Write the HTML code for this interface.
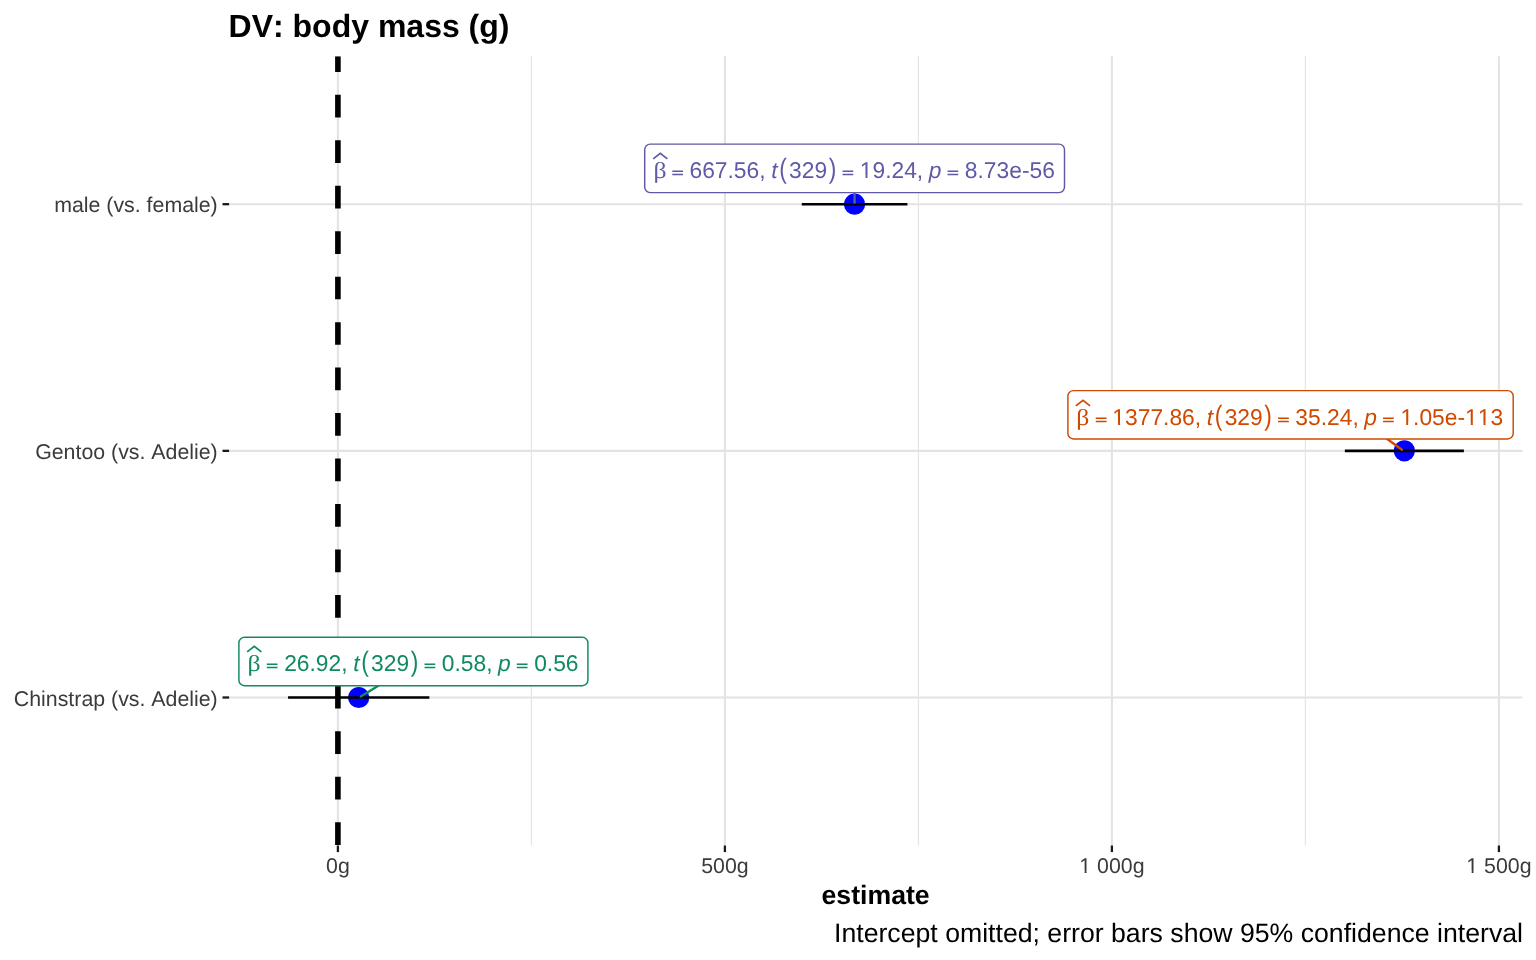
<!DOCTYPE html>
<html><head><meta charset="utf-8"><title>DV: body mass (g)</title>
<style>html,body{margin:0;padding:0;background:#fff;}svg{display:block;}</style>
</head><body>
<svg width="1536" height="960" viewBox="0 0 1536 960" text-rendering="geometricPrecision" style="will-change:transform;font-kerning:none">
<rect x="0" y="0" width="1536" height="960" fill="#ffffff"/>
<defs><clipPath id="c0"><path clip-rule="evenodd" d="M0 0H1536V960H0ZM1079.71 870.71H1084.64V874.50H1079.71ZM1086.53 870.71H1091.01V874.50H1086.53Z"/></clipPath><clipPath id="c1"><path clip-rule="evenodd" d="M0 0H1536V960H0ZM1466.71 870.71H1471.64V874.50H1466.71ZM1473.53 870.71H1478.01V874.50H1473.53Z"/></clipPath><clipPath id="c2"><path clip-rule="evenodd" d="M0 0H1536V960H0ZM860.25 175.60H865.53V179.50H860.25ZM867.54 175.60H872.33V179.50H867.54Z"/></clipPath><clipPath id="c3"><path clip-rule="evenodd" d="M0 0H1536V960H0ZM1112.82 422.60H1118.10V426.50H1112.82ZM1120.12 422.60H1124.91V426.50H1120.12Z"/></clipPath><clipPath id="c4"><path clip-rule="evenodd" d="M0 0H1536V960H0ZM1400.88 422.60H1406.16V426.50H1400.88ZM1408.18 422.60H1412.97V426.50H1408.18ZM1465.53 422.60H1470.81V426.50H1465.53ZM1472.82 422.60H1477.61V426.50H1472.82ZM1478.21 422.60H1483.49V426.50H1478.21ZM1485.50 422.60H1490.29V426.50H1485.50Z"/></clipPath></defs>
<line x1="531.40" y1="56.25" x2="531.40" y2="845.5" stroke="#e3e3e3" stroke-width="1.07"/>
<line x1="918.40" y1="56.25" x2="918.40" y2="845.5" stroke="#e3e3e3" stroke-width="1.07"/>
<line x1="1305.40" y1="56.25" x2="1305.40" y2="845.5" stroke="#e3e3e3" stroke-width="1.07"/>
<line x1="337.90" y1="56.25" x2="337.90" y2="845.5" stroke="#e3e3e3" stroke-width="2.13"/>
<line x1="724.90" y1="56.25" x2="724.90" y2="845.5" stroke="#e3e3e3" stroke-width="2.13"/>
<line x1="1111.90" y1="56.25" x2="1111.90" y2="845.5" stroke="#e3e3e3" stroke-width="2.13"/>
<line x1="1498.90" y1="56.25" x2="1498.90" y2="845.5" stroke="#e3e3e3" stroke-width="2.13"/>
<line x1="229.1" y1="204.2" x2="1522.5" y2="204.2" stroke="#e3e3e3" stroke-width="2.13"/>
<line x1="229.1" y1="450.85" x2="1522.5" y2="450.85" stroke="#e3e3e3" stroke-width="2.13"/>
<line x1="229.1" y1="697.5" x2="1522.5" y2="697.5" stroke="#e3e3e3" stroke-width="2.13"/>
<clipPath id="pc"><rect x="229.1" y="56.25" width="1293.4" height="789.25"/></clipPath>
<line x1="337.9" y1="845.0" x2="337.9" y2="56.25" stroke="#000" stroke-width="5.6" stroke-dasharray="22.7 22.77" clip-path="url(#pc)"/>
<line x1="222.5" y1="204.2" x2="229.1" y2="204.2" stroke="#1a1a1a" stroke-width="2.3"/>
<line x1="222.5" y1="450.85" x2="229.1" y2="450.85" stroke="#1a1a1a" stroke-width="2.3"/>
<line x1="222.5" y1="697.5" x2="229.1" y2="697.5" stroke="#1a1a1a" stroke-width="2.3"/>
<line x1="337.90" y1="845.5" x2="337.90" y2="852.1" stroke="#1a1a1a" stroke-width="2.3"/>
<line x1="724.90" y1="845.5" x2="724.90" y2="852.1" stroke="#1a1a1a" stroke-width="2.3"/>
<line x1="1111.90" y1="845.5" x2="1111.90" y2="852.1" stroke="#1a1a1a" stroke-width="2.3"/>
<line x1="1498.90" y1="845.5" x2="1498.90" y2="852.1" stroke="#1a1a1a" stroke-width="2.3"/>
<text x="217.72" y="212.00" font-family="'Liberation Sans', sans-serif" font-size="21.33" text-anchor="end" fill="#3b3b3b">male (vs. female)</text>
<text x="217.72" y="459.00" font-family="'Liberation Sans', sans-serif" font-size="21.33" text-anchor="end" fill="#3b3b3b">Gentoo (vs. Adelie)</text>
<text x="217.72" y="706.00" font-family="'Liberation Sans', sans-serif" font-size="21.33" text-anchor="end" fill="#3b3b3b">Chinstrap (vs. Adelie)</text>
<text x="337.90" y="873.00" font-family="'Liberation Sans', sans-serif" font-size="21.33" text-anchor="middle" fill="#3b3b3b">0g</text>
<text x="724.90" y="873.00" font-family="'Liberation Sans', sans-serif" font-size="21.33" text-anchor="middle" fill="#3b3b3b">500g</text>
<text x="1111.90" y="873.00" font-family="'Liberation Sans', sans-serif" font-size="21.33" text-anchor="middle" fill="#3b3b3b" clip-path="url(#c0)">1 000g</text>
<text x="1498.90" y="873.00" font-family="'Liberation Sans', sans-serif" font-size="21.33" text-anchor="middle" fill="#3b3b3b" clip-path="url(#c1)">1 500g</text>
<text x="228.56" y="37.00" font-family="'Liberation Sans', sans-serif" font-size="32" font-weight="bold" fill="#000">DV: body mass (g)</text>
<text x="875.60" y="904.00" font-family="'Liberation Sans', sans-serif" font-size="26.67" font-weight="bold" text-anchor="middle" fill="#000">estimate</text>
<text x="1522.98" y="942.00" font-family="'Liberation Sans', sans-serif" font-size="26.67" text-anchor="end" fill="#000">Intercept omitted; error bars show 95% confidence interval</text>
<circle cx="854.59" cy="204.2" r="10.6" fill="#0000ff"/>
<circle cx="1404.36" cy="450.85" r="10.6" fill="#0000ff"/>
<circle cx="358.74" cy="697.5" r="10.6" fill="#0000ff"/>
<line x1="801.76" y1="204.2" x2="907.41" y2="204.2" stroke="#000" stroke-width="2.6"/>
<line x1="1344.84" y1="450.85" x2="1463.89" y2="450.85" stroke="#000" stroke-width="2.6"/>
<line x1="288.05" y1="697.5" x2="429.39" y2="697.5" stroke="#000" stroke-width="2.6"/>
<line x1="854.6" y1="192.6" x2="854.6" y2="202.9" stroke="#5f5aa5" stroke-width="2.3" stroke-linecap="round"/>
<rect x="644.7" y="144.1" width="419.80" height="48.50" rx="5.5" ry="5.5" fill="#fff" stroke="#5f5aa5" stroke-width="1.45"/>
<text transform="translate(653.44,178) scale(1.13,1)" x="0" y="0" font-family="'Liberation Serif', serif" font-size="22.8" fill="#5f5aa5">β</text>
<polyline points="653.18,158.90 660.28,153.40 667.38,158.90" fill="none" stroke="#5f5aa5" stroke-width="1.75"/>
<text transform="translate(670.39,178) scale(1.05,1)" x="0" y="0" font-family="'DejaVu Sans', sans-serif" font-size="16.3" fill="#5f5aa5">=</text>
<text x="689.47" y="178.00" font-family="'Liberation Sans', sans-serif" font-size="22.8" fill="#5f5aa5">667.56,&#160;</text>
<text x="771.27" y="178.00" font-family="'Liberation Sans', sans-serif" font-size="22.8" font-style="italic" fill="#5f5aa5">t</text>
<text transform="matrix(1,0,0,1.2287,0,-40.91)" x="779.21" y="178" font-family="'Liberation Sans', sans-serif" font-size="22.8" fill="#5f5aa5">(</text>
<text x="789.05" y="178.00" font-family="'Liberation Sans', sans-serif" font-size="22.8" fill="#5f5aa5">329</text>
<text transform="matrix(1,0,0,1.2287,0,-40.91)" x="828.75" y="178" font-family="'Liberation Sans', sans-serif" font-size="22.8" fill="#5f5aa5">)</text>
<text transform="translate(840.71,178) scale(1.05,1)" x="0" y="0" font-family="'DejaVu Sans', sans-serif" font-size="16.3" fill="#5f5aa5">=</text>
<text x="859.79" y="178.00" font-family="'Liberation Sans', sans-serif" font-size="22.8" fill="#5f5aa5" clip-path="url(#c2)">19.24,&#160;</text>
<text x="928.72" y="178.00" font-family="'Liberation Sans', sans-serif" font-size="22.8" font-style="italic" fill="#5f5aa5">p</text>
<text transform="translate(945.76,178) scale(1.05,1)" x="0" y="0" font-family="'DejaVu Sans', sans-serif" font-size="16.3" fill="#5f5aa5">=</text>
<text x="964.85" y="178.00" font-family="'Liberation Sans', sans-serif" font-size="22.8" fill="#5f5aa5">8.73e-56</text>
<line x1="1387.3" y1="439.0" x2="1401.9" y2="449.7" stroke="#cf4a00" stroke-width="2.3" stroke-linecap="round"/>
<rect x="1067.9" y="390.6" width="445.30" height="48.30" rx="5.5" ry="5.5" fill="#fff" stroke="#cf4a00" stroke-width="1.45"/>
<text transform="translate(1076.14,425) scale(1.13,1)" x="0" y="0" font-family="'Liberation Serif', serif" font-size="22.8" fill="#cf4a00">β</text>
<polyline points="1075.88,405.90 1082.98,400.40 1090.08,405.90" fill="none" stroke="#cf4a00" stroke-width="1.75"/>
<text transform="translate(1093.99,425) scale(1.05,1)" x="0" y="0" font-family="'DejaVu Sans', sans-serif" font-size="16.3" fill="#cf4a00">=</text>
<text x="1112.37" y="425.00" font-family="'Liberation Sans', sans-serif" font-size="22.8" fill="#cf4a00" clip-path="url(#c3)">1377.86,&#160;</text>
<text x="1206.85" y="425.00" font-family="'Liberation Sans', sans-serif" font-size="22.8" font-style="italic" fill="#cf4a00">t</text>
<text transform="matrix(1,0,0,1.2287,0,-97.41)" x="1214.79" y="425" font-family="'Liberation Sans', sans-serif" font-size="22.8" fill="#cf4a00">(</text>
<text x="1224.63" y="425.00" font-family="'Liberation Sans', sans-serif" font-size="22.8" fill="#cf4a00">329</text>
<text transform="matrix(1,0,0,1.2287,0,-97.41)" x="1264.33" y="425" font-family="'Liberation Sans', sans-serif" font-size="22.8" fill="#cf4a00">)</text>
<text transform="translate(1276.29,425) scale(1.05,1)" x="0" y="0" font-family="'DejaVu Sans', sans-serif" font-size="16.3" fill="#cf4a00">=</text>
<text x="1295.37" y="425.00" font-family="'Liberation Sans', sans-serif" font-size="22.8" fill="#cf4a00">35.24,&#160;</text>
<text x="1364.30" y="425.00" font-family="'Liberation Sans', sans-serif" font-size="22.8" font-style="italic" fill="#cf4a00">p</text>
<text transform="translate(1381.34,425) scale(1.05,1)" x="0" y="0" font-family="'DejaVu Sans', sans-serif" font-size="16.3" fill="#cf4a00">=</text>
<text x="1400.43" y="425.00" font-family="'Liberation Sans', sans-serif" font-size="22.8" fill="#cf4a00" clip-path="url(#c4)">1.05e-113</text>
<line x1="377.9" y1="686.0" x2="360.8" y2="696.5" stroke="#108a5e" stroke-width="2.3" stroke-linecap="round"/>
<rect x="238.9" y="637.3" width="349.00" height="48.40" rx="5.5" ry="5.5" fill="#fff" stroke="#108a5e" stroke-width="1.45"/>
<text transform="translate(247.44,671.0) scale(1.13,1)" x="0" y="0" font-family="'Liberation Serif', serif" font-size="22.8" fill="#108a5e">β</text>
<polyline points="247.18,651.90 254.28,646.40 261.38,651.90" fill="none" stroke="#108a5e" stroke-width="1.75"/>
<text transform="translate(265.09,671.0) scale(1.05,1)" x="0" y="0" font-family="'DejaVu Sans', sans-serif" font-size="16.3" fill="#108a5e">=</text>
<text x="284.17" y="671.00" font-family="'Liberation Sans', sans-serif" font-size="22.8" fill="#108a5e">26.92,&#160;</text>
<text x="353.29" y="671.00" font-family="'Liberation Sans', sans-serif" font-size="22.8" font-style="italic" fill="#108a5e">t</text>
<text transform="matrix(1,0,0,1.2287,0,-153.68)" x="361.23" y="671.0" font-family="'Liberation Sans', sans-serif" font-size="22.8" fill="#108a5e">(</text>
<text x="371.07" y="671.00" font-family="'Liberation Sans', sans-serif" font-size="22.8" fill="#108a5e">329</text>
<text transform="matrix(1,0,0,1.2287,0,-153.68)" x="410.77" y="671.0" font-family="'Liberation Sans', sans-serif" font-size="22.8" fill="#108a5e">)</text>
<text transform="translate(422.73,671.0) scale(1.05,1)" x="0" y="0" font-family="'DejaVu Sans', sans-serif" font-size="16.3" fill="#108a5e">=</text>
<text x="441.81" y="671.00" font-family="'Liberation Sans', sans-serif" font-size="22.8" fill="#108a5e">0.58,&#160;</text>
<text x="498.06" y="671.00" font-family="'Liberation Sans', sans-serif" font-size="22.8" font-style="italic" fill="#108a5e">p</text>
<text transform="translate(515.10,671.0) scale(1.05,1)" x="0" y="0" font-family="'DejaVu Sans', sans-serif" font-size="16.3" fill="#108a5e">=</text>
<text x="534.18" y="671.00" font-family="'Liberation Sans', sans-serif" font-size="22.8" fill="#108a5e">0.56</text>
</svg>
</body></html>
